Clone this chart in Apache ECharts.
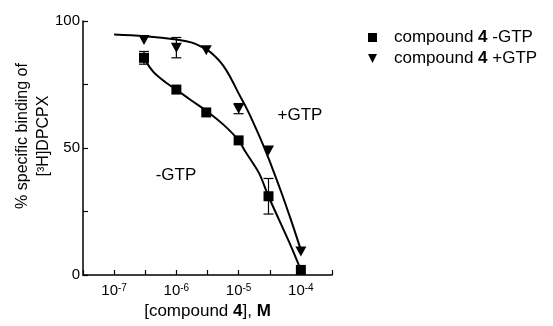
<!DOCTYPE html>
<html>
<head>
<meta charset="utf-8">
<script src="https://cdn.jsdelivr.net/npm/echarts@6/dist/echarts.min.js"></script>
<style>
html, body { margin: 0; padding: 0; background: #fff; }
#main { width: 553px; height: 326px; }
</style>
</head>
<body>
<div id="main"></div>
<script>
// concentrations as log10 [M]
var logConc = [-6.52, -6, -5.52, -5, -4.52, -4];
var minusGtp = [85.5, 73, 64, 53, 31, 2];
var minusErr = [2.5, 0, 0, 0, 7, 0];
var plusGtp = [92.5, 89.5, 88.5, 65.5, 49, 9.3];
var plusErr = [0, 4, 0, 2, 0, 0];

// fitted curves
var curveMinusX = [-6.52, -6.37, -6.18, -5.99, -5.77, -5.5, -5.24, -5.0, -4.89, -4.67, -4.53, -4.35, -4.16, -4.0];
var curveMinusY = [85.2, 80, 76, 72.8, 68.9, 64.3, 59.1, 53, 48.5, 40, 31.5, 21.7, 11.4, 2.0];
var curvePlusX = [-7.0, -6.5, -6.0, -5.75, -5.5, -5.375, -5.25, -5.125, -5.0, -4.86, -4.72, -4.59, -4.45, -4.3, -4.15, -4.0];
var curvePlusY = [94.7, 94.0, 92.7, 91.5, 88.5, 86, 82.5, 77.5, 71.5, 65.0, 57.6, 50.2, 41.5, 31.6, 21, 9.8];

var xTicks = [-7, -6, -5, -4];
var yLabels = [0, 50, 100];

var font = 'Liberation Sans, Arial, sans-serif';

function pairs(xs, ys) {
  return xs.map(function (x, i) { return [x, ys[i]]; });
}
function errData(ys, es) {
  var out = [];
  logConc.forEach(function (x, i) {
    if (es[i] > 0) out.push([x, ys[i] - es[i], ys[i] + es[i]]);
  });
  return out;
}
function renderErr(params, api) {
  var lo = api.coord([api.value(0), api.value(1)]);
  var hi = api.coord([api.value(0), api.value(2)]);
  var w = 5;
  var st = { stroke: '#000', lineWidth: 1.2 };
  return {
    type: 'group',
    children: [
      { type: 'line', shape: { x1: lo[0], y1: lo[1], x2: hi[0], y2: hi[1] }, style: st },
      { type: 'line', shape: { x1: lo[0] - w, y1: lo[1], x2: lo[0] + w, y2: lo[1] }, style: st },
      { type: 'line', shape: { x1: hi[0] - w, y1: hi[1], x2: hi[0] + w, y2: hi[1] }, style: st }
    ]
  };
}

var chart = echarts.init(document.getElementById('main'));
var option = {
  animation: false,
  textStyle: { fontFamily: font, color: '#000' },
  grid: { left: 83, right: 221, top: 21, bottom: 51 },
  legend: {
    orient: 'vertical',
    left: 363,
    top: 24,
    itemGap: 4,
    itemWidth: 9,
    itemHeight: 9,
    data: [
      { name: 'compound 4 -GTP', icon: 'rect' },
      { name: 'compound 4 +GTP', icon: 'path://M0,0 L10,0 L5,10 Z' }
    ],
    formatter: function (name) {
      return '{n|compound }{b|4}{n|' + name.slice(10) + '}';
    },
    textStyle: {
      fontFamily: font,
      fontSize: 17,
      color: '#000',
      padding: [0, 0, 0, 12],
      rich: {
        n: { fontFamily: font, fontSize: 17, color: '#000' },
        b: { fontFamily: font, fontSize: 17, color: '#000', fontWeight: 'bold' }
      }
    }
  },
  xAxis: {
    type: 'value',
    min: -7.5,
    max: -3.5,
    interval: 0.5,
    splitLine: { show: false },
    axisLine: { onZero: false, lineStyle: { color: '#000', width: 1.5 } },
    axisTick: { inside: true, length: 5, lineStyle: { color: '#000', width: 1.2 } },
    axisLabel: {
      margin: 8,
      formatter: function (v) {
        if (xTicks.indexOf(v) < 0) return '';
        return '{m|10}{s|' + v + '}';
      },
      rich: {
        m: { fontFamily: font, fontSize: 15, color: '#000' },
        s: { fontFamily: font, fontSize: 10, color: '#000', verticalAlign: 'top' }
      }
    },
    name: '{n|[compound }{b|4}{n|], }{b|M}',
    nameLocation: 'middle',
    nameGap: 22,
    nameTextStyle: {
      rich: {
        n: { fontFamily: font, fontSize: 17, color: '#000' },
        b: { fontFamily: font, fontSize: 17, color: '#000', fontWeight: 'bold' }
      }
    }
  },
  yAxis: {
    type: 'value',
    min: 0,
    max: 100,
    interval: 25,
    splitLine: { show: false },
    axisLine: { show: true, lineStyle: { color: '#000', width: 1.5 } },
    axisTick: { show: true, inside: true, length: 5, lineStyle: { color: '#000', width: 1.2 } },
    axisLabel: {
      fontSize: 15,
      color: '#000',
      margin: 3,
      formatter: function (v) { return yLabels.indexOf(v) >= 0 ? String(v) : ''; }
    }
  },
  graphic: [
    {
      type: 'text', x: 33, y: 136, rotation: Math.PI / 2,
      style: {
        text: '% specific binding of\n[³H]DPCPX',
        font: '16px ' + font, fill: '#000',
        align: 'center', verticalAlign: 'middle', lineHeight: 21
      }
    },
    {
      type: 'text', x: 300, y: 115,
      style: { text: '+GTP', font: '17px ' + font, fill: '#000', align: 'center', verticalAlign: 'middle' }
    },
    {
      type: 'text', x: 176, y: 175,
      style: { text: '-GTP', font: '17px ' + font, fill: '#000', align: 'center', verticalAlign: 'middle' }
    }
  ],
  series: [
    {
      type: 'line', data: pairs(curveMinusX, curveMinusY), smooth: 0.3,
      showSymbol: false, lineStyle: { color: '#000', width: 2 }, z: 2, silent: true
    },
    {
      type: 'line', data: pairs(curvePlusX, curvePlusY), smooth: 0.4,
      showSymbol: false, lineStyle: { color: '#000', width: 2 }, z: 2, silent: true
    },
    { type: 'custom', data: errData(minusGtp, minusErr), renderItem: renderErr, z: 3 },
    { type: 'custom', data: errData(plusGtp, plusErr), renderItem: renderErr, z: 3 },
    {
      name: 'compound 4 -GTP', type: 'scatter', data: pairs(logConc, minusGtp),
      symbol: 'rect', symbolSize: 10, itemStyle: { color: '#000', opacity: 1 }, z: 4
    },
    {
      name: 'compound 4 +GTP', type: 'scatter', data: pairs(logConc, plusGtp),
      symbol: 'triangle', symbolRotate: 180, symbolSize: [11, 10], itemStyle: { color: '#000', opacity: 1 }, z: 4
    }
  ]
};
chart.setOption(option);
</script>
</body>
</html>
